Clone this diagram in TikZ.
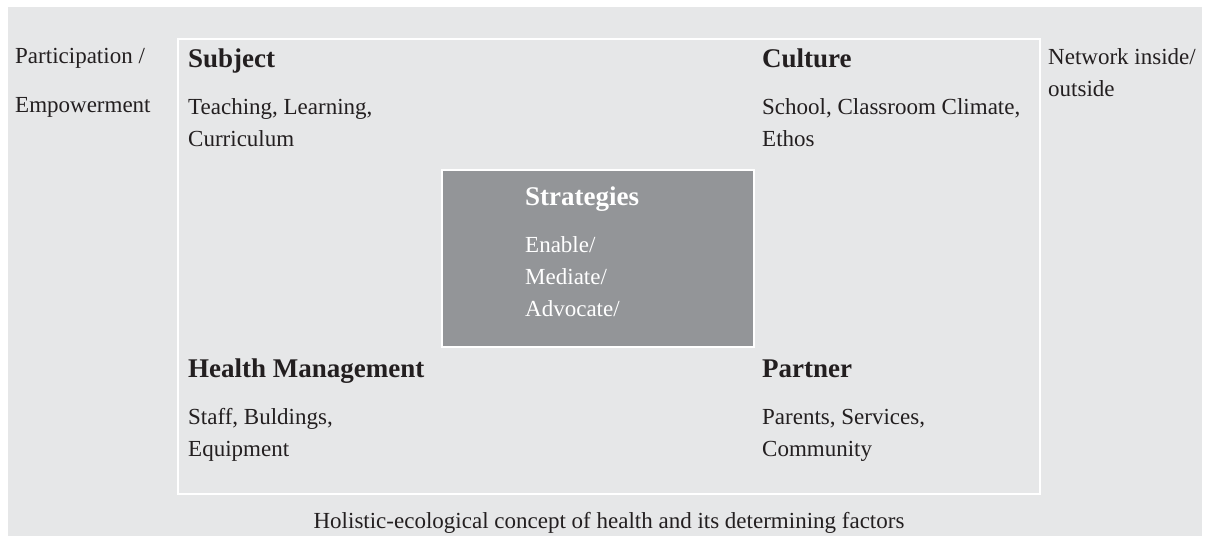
\documentclass[tikz,border=0pt]{standalone}
\usepackage{fontspec}
\setmainfont{Liberation Serif}
\usepackage{tikz}
\usetikzlibrary{calc}
\definecolor{panelgray}{HTML}{E6E7E8}
\definecolor{stratgray}{HTML}{939598}
\definecolor{inkdark}{HTML}{231F20}
\tikzset{
  head/.style = {anchor = base west, inner sep = 0, font = \fontsize{27}{32}\selectfont\bfseries, text = inkdark},
  body/.style = {anchor = base west, inner sep = 0, align = left, font = \fontsize{23}{31.5}\selectfont, text = inkdark},
}
\begin{document}
\begin{tikzpicture}[x = 1pt, y = -1pt]
\useasboundingbox (0, 0) rectangle (1205, 536);
%\draw[very thin, color = gray](0, 0) grid[step = 50] (1205, 536);
\fill [panelgray] (8, 7) rectangle (1202, 536);
\draw [white, line width = 1.2pt] (178, 39) rectangle (1040, 494);
\draw [white, line width = 1.2pt, fill = stratgray] (442, 170) rectangle (754, 347);
% multi-line nodes: base = baseline of last line
\node (part) at (15, 63) [body] {Participation /};
\node (empow) at (15, 112) [body] {Empowerment};
\node (net) at (1048, 96) [body] {Network inside/\\outside};
\node (subj) at (188, 67) [head] {Subject};
\node (subjtxt) at (188, 146) [body] {Teaching, Learning,\\Curriculum};
\node (cult) at (762, 67) [head] {Culture};
\node (culttxt) at (762, 146) [body] {School, Classroom Climate,\\Ethos};
\node (strat) at (525, 205) [head, text = white] {Strategies};
\node (strattxt) at (525, 316) [body, text = white, font = \fontsize{23}{32}\selectfont] {Enable/\\Mediate/\\Advocate/};
\node (mgmt) at (188, 377) [head] {Health Management};
\node (mgmttxt) at (188, 456) [body] {Staff, Buldings,\\Equipment};
\node (partn) at (762, 377) [head] {Partner};
\node (partntxt) at (762, 456) [body] {Parents, Services,\\Community};
\node (capt) at (609, 528) [body, anchor = base] {Holistic-ecological concept of health and its determining factors};
\end{tikzpicture}
\end{document}
